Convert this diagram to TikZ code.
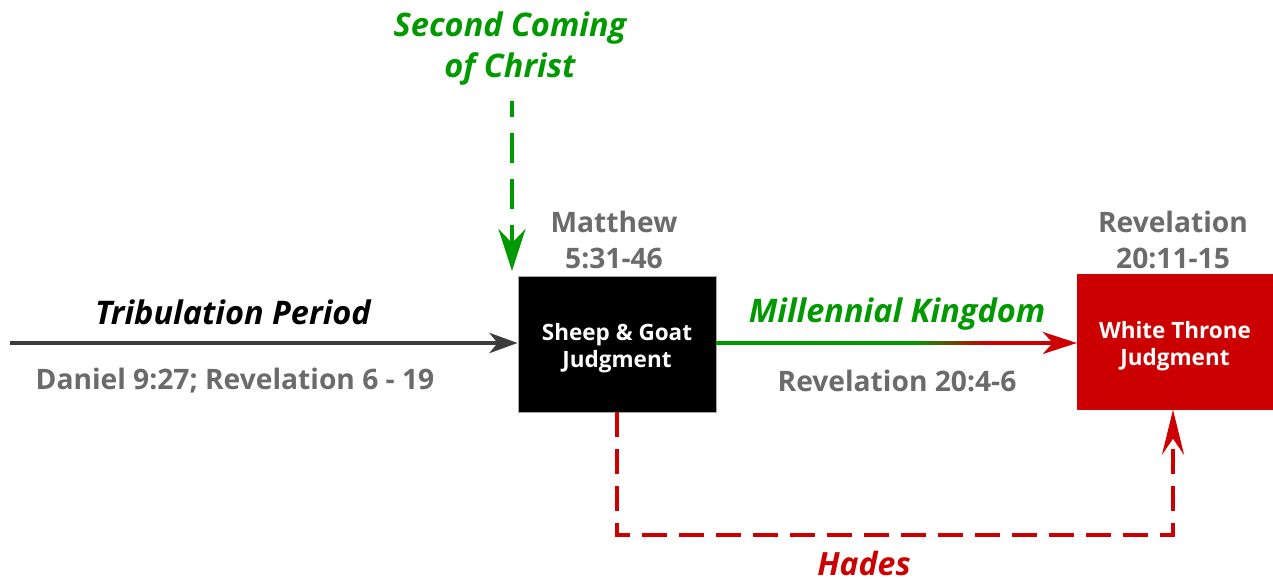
\documentclass[tikz,border=0pt]{standalone}
\usepackage{fontspec}
\setmainfont{Open Sans}
\usetikzlibrary{arrows.meta,calc}
\definecolor{dgreen}{HTML}{009900}
\definecolor{dred}{HTML}{CC0000}
\definecolor{refgray}{HTML}{6B6B6B}
\definecolor{linegray}{HTML}{3C3C3C}
\tikzset{
  bigital/.style={font=\fontsize{32.5}{41}\selectfont\bfseries\itshape, align=center, inner sep=0},
  ref/.style={font=\fontsize{28.2}{36}\selectfont\bfseries, text=refgray, align=center, inner sep=0},
  boxtext/.style={font=\fontsize{22.5}{27}\selectfont\bfseries, text=white, align=center},
  judgebox/.style={minimum width=#1, minimum height=136, inner sep=0},
  tipA/.style={-{Stealth[length=28,width=20,inset=8]}},
}
\begin{document}
\begin{tikzpicture}[x=1pt,y=-1pt]
\useasboundingbox[fill=white] (0,0) rectangle (1273,582);

% boxes
\node[judgebox=198, fill=black, draw=gray!70, line width=0.8] (sg) at (617,344) {};
\node[boxtext] (sgt) at (617,348) {Sheep \& Goat\\Judgment};
\node[judgebox=196, fill=dred] (wt) at (1175,341.5) {};
\node[boxtext] (wtt) at (1175,346) {White Throne\\Judgment};

% tribulation
\coordinate (tstart) at (10,343);
\draw[linegray, line width=4.5, tipA] (tstart) -- (sg.west|-tstart);
\node[bigital, text=black] (trib) at (233,312) {Tribulation Period};
\node[ref] (dan) at (235,381) {Daniel 9:27; Revelation 6 - 19};

% second coming
\node[bigital, text=dgreen] (sc) at (510,49) {Second Coming\\of Christ};
\coordinate (scstart) at (512,101);
\draw[dgreen, line width=4.5, dash pattern=on 16 off 16 on 30 off 16 on 30 off 16 on 30 off 16, -{Stealth[length=42,width=27,inset=14]}] (scstart) -- (512,271);

% Matthew
\node[ref] (mat) at (614,239.5) {Matthew\\5:31-46};

% millennial gradient arrow
\coordinate (m1) at ($(sg.east)+(0,-1)$);
\coordinate (ga) at (915,343);
\coordinate (gb) at (985,343);
\draw[dgreen, line width=3.5] (m1) -- (ga);
\shade[left color=dgreen, right color=dred] (915,341.25) rectangle (985,344.75);
\draw[dred, line width=3.5, -{Stealth[length=34,width=22,inset=10]}] (gb) -- (wt.west|-gb);
\node[bigital, text=dgreen] (mk) at (897,314) {Millennial Kingdom};
\node[ref] (rev1) at (897,381) {Revelation 20:4-6};

% Revelation 20:11-15
\node[ref] (rev2) at (1173,239.5) {Revelation\\20:11-15};

% hades
\coordinate (hb1) at (617,535);
\coordinate (hb2) at (1173,535);
\draw[dred, line width=4.5, dash pattern=on 25 off 12, -{Stealth[length=45,width=22,inset=16]}] (sg.south-|hb1) -- (hb1) -- (hb2) -- (wt.south-|hb2);
\node[font=\fontsize{32}{34}\selectfont\bfseries\itshape, text=dred, inner sep=0] (hades) at (864,563) {Hades};
\end{tikzpicture}
\end{document}
